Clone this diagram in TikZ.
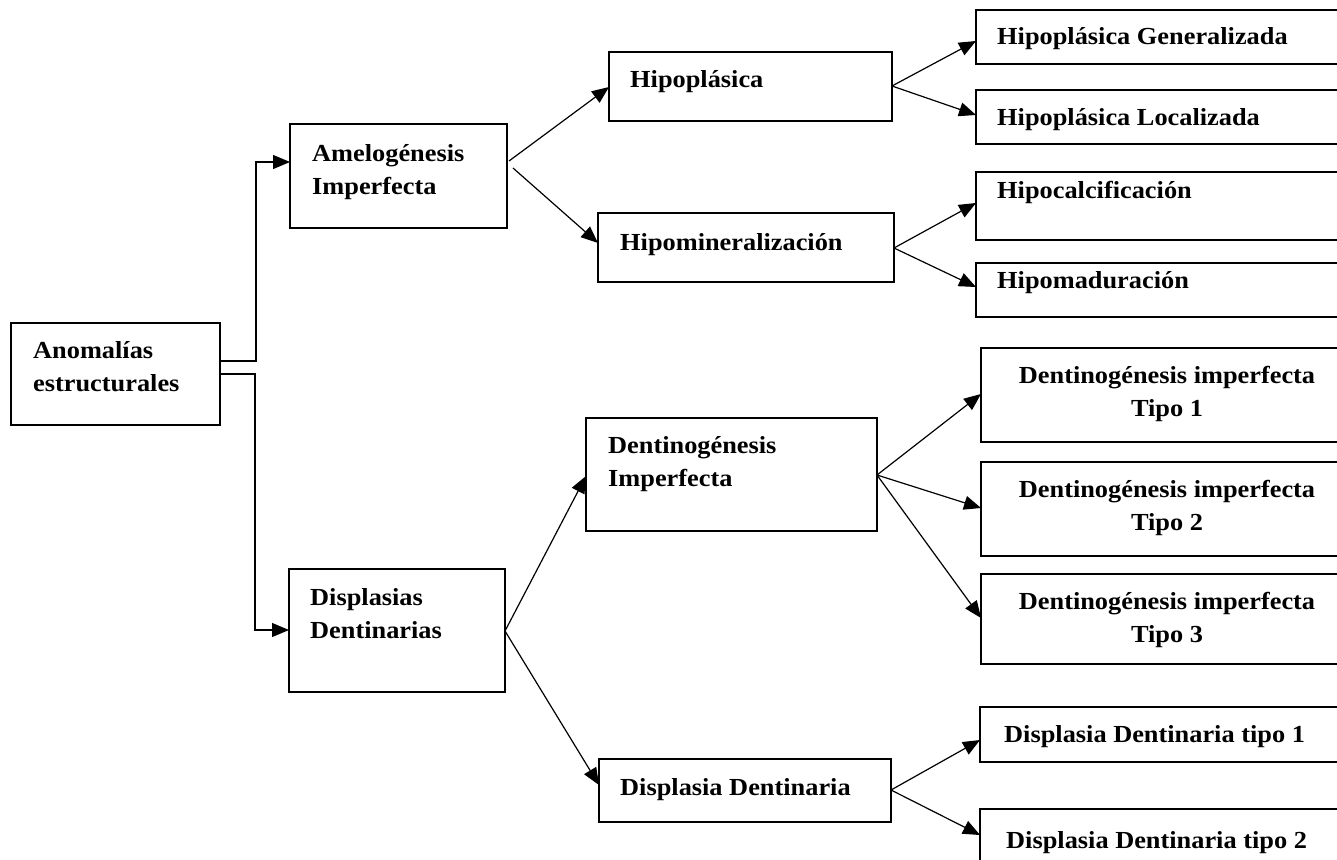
\documentclass[tikz,border=0pt]{standalone}
\usepackage{fontspec}
\setmainfont{Liberation Serif}[FakeStretch=1.075]
\usetikzlibrary{arrows.meta}

% two lines stacked, baseline on the first line
\newcommand\leftlines[2]{\vtop{\hbox{#1}\hbox{#2}}}
\newcommand\centerlines[2]{\vtop{\halign{\hfil##\hfil\cr#1\cr#2\cr}}}

\begin{document}
\begin{tikzpicture}[x=1pt,y=-1pt,
  box/.style={draw, line width=1.8pt, inner sep=0pt, outer sep=0pt, anchor=north west},
  txt/.style={inner sep=0pt, anchor=base west, font={\fontsize{24.5}{33}\selectfont\bfseries}},
  ctxt/.style={txt, anchor=base},
  arr/.style={line width=1.2pt, -{Triangle[length=17pt,width=14pt]}}]

\useasboundingbox (0,0) rectangle (1337,859);
\fill[white] (0,0) rectangle (1337,859);
\clip (0,0) rectangle (1337,859);

% boxes
\node[box, minimum width=209pt, minimum height=102pt] (anom) at (11,323) {};
\node[box, minimum width=217pt, minimum height=104pt] (amelo) at (290,124) {};
\node[box, minimum width=216pt, minimum height=123pt] (displ) at (289,569) {};
\node[box, minimum width=283pt, minimum height=69pt] (hipopl) at (609,52) {};
\node[box, minimum width=296pt, minimum height=69pt] (hipomin) at (598,213) {};
\node[box, minimum width=291pt, minimum height=113pt] (dimp) at (586,418) {};
\node[box, minimum width=292pt, minimum height=63pt] (ddisp) at (599,759) {};
\node[box, minimum width=420pt, minimum height=54pt] (hg) at (976,10) {};
\node[box, minimum width=420pt, minimum height=54pt] (hl) at (976,90) {};
\node[box, minimum width=420pt, minimum height=68pt] (hcal) at (976,172) {};
\node[box, minimum width=420pt, minimum height=54pt] (hmad) at (976,263) {};
\node[box, minimum width=420pt, minimum height=94pt] (di1) at (981,348) {};
\node[box, minimum width=420pt, minimum height=94pt] (di2) at (981,462) {};
\node[box, minimum width=420pt, minimum height=90pt] (di3) at (981,574) {};
\node[box, minimum width=420pt, minimum height=55pt] (dd1) at (980,707) {};
\node[box, minimum width=420pt, minimum height=100pt] (dd2) at (980,809) {};

% labels
\node[txt] (anomT) at (33,358) {\leftlines{Anomalías}{estructurales}};
\node[txt] (ameloT) at (312,161) {\leftlines{Amelogénesis}{Imperfecta}};
\node[txt] (displT) at (310,605) {\leftlines{Displasias}{Dentinarias}};
\node[txt] (hipoplT) at (630,87) {Hipoplásica};
\node[txt] (hipominT) at (620,250) {Hipomineralización};
\node[txt] (dimpT) at (608,453) {\leftlines{Dentinogénesis}{Imperfecta}};
\node[txt] (ddispT) at (620,795) {Displasia Dentinaria};
\node[txt] (hgT) at (997,45) {Hipoplásica Generalizada};
\node[txt] (hlT) at (997,125) {Hipoplásica Localizada};
\node[txt] (hcalT) at (997,198) {Hipocalcificación};
\node[txt] (hmadT) at (997,288) {Hipomaduración};
\node[ctxt] (di1T) at (1167,383) {\centerlines{Dentinogénesis imperfecta}{Tipo 1}};
\node[ctxt] (di2T) at (1167,497) {\centerlines{Dentinogénesis imperfecta}{Tipo 2}};
\node[ctxt] (di3T) at (1167,609) {\centerlines{Dentinogénesis imperfecta}{Tipo 3}};
\node[txt] (dd1T) at (1004,742) {Displasia Dentinaria tipo 1};
\node[txt] (dd2T) at (1006,848) {Displasia Dentinaria tipo 2};

% elbow connectors from the root
\draw[arr] ([yshift=-38pt]anom.north east) -- ++(36,0) |- ([yshift=-38pt]amelo.north west);
\draw[arr] ([yshift=-51pt]anom.north east) -- ++(35,0) |- ([yshift=-61pt]displ.north west);

% fan-out connectors
\draw[arr] ([xshift=2pt,yshift=-37pt]amelo.north east) -- ([yshift=-35pt]hipopl.north west);
\draw[arr] ([xshift=6pt,yshift=-44pt]amelo.north east) -- ([yshift=-30pt]hipomin.north west);
\draw[arr] ([yshift=-34pt]hipopl.north east) -- ([yshift=-31pt]hg.north west);
\draw[arr] ([yshift=-34pt]hipopl.north east) -- ([yshift=-25pt]hl.north west);
\draw[arr] ([yshift=-35pt]hipomin.north east) -- ([yshift=-31pt]hcal.north west);
\draw[arr] ([yshift=-35pt]hipomin.north east) -- ([yshift=-24pt]hmad.north west);
\draw[arr] ([yshift=-62pt]displ.north east) -- ([yshift=-58pt]dimp.north west);
\draw[arr] ([yshift=-62pt]displ.north east) -- ([yshift=-26pt]ddisp.north west);
\draw[arr] ([yshift=-57pt]dimp.north east) -- ([yshift=-46pt]di1.north west);
\draw[arr] ([yshift=-57pt]dimp.north east) -- ([yshift=-46pt]di2.north west);
\draw[arr] ([yshift=-57pt]dimp.north east) -- ([yshift=-44pt]di3.north west);
\draw[arr] ([yshift=-31pt]ddisp.north east) -- ([yshift=-33pt]dd1.north west);
\draw[arr] ([yshift=-31pt]ddisp.north east) -- ([yshift=-26pt]dd2.north west);

\end{tikzpicture}
\end{document}
